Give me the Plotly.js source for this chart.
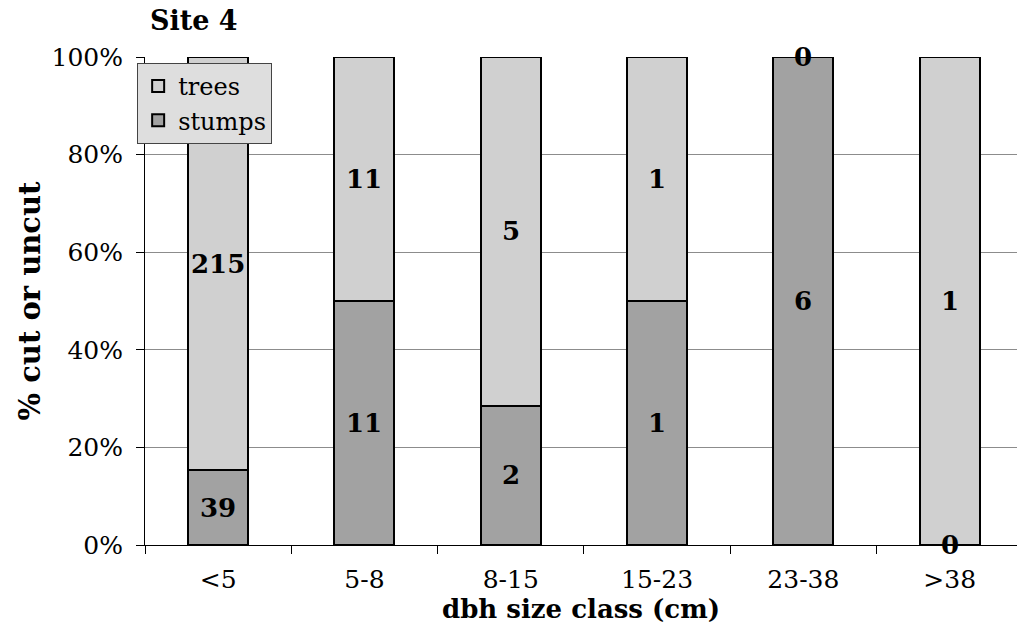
<!DOCTYPE html>
<html>
<head>
<meta charset="utf-8">
<script src="https://cdn.plot.ly/plotly-3.0.1.min.js"></script>
<style>html,body{margin:0;padding:0;background:#fff;}#chart{width:1017px;height:641px;}</style>
</head>
<body>
<div id="chart"></div>
<script>
const categories = ['<5', '5-8', '8-15', '15-23', '23-38', '>38'];
const stumps = [39, 11, 2, 1, 6, 0];
const trees = [215, 11, 5, 1, 0, 1];
const yTickVals = [0, 20, 40, 60, 80, 100];
const yTickText = ['0%', '20%', '40%', '60%', '80%', '100%'];

const FONT = 'DejaVu Serif, Georgia, serif';
const totals = categories.map((c, i) => stumps[i] + trees[i]);
const pctS = stumps.map((v, i) => 100 * v / totals[i]);
const pctT = trees.map((v, i) => 100 * v / totals[i]);

const traceStumps = {
  type: 'bar', name: 'stumps', x: categories, y: pctS,
  marker: {color: '#a2a2a2', line: {color: '#000', width: 2}},
  hoverinfo: 'skip'
};
const traceTrees = {
  type: 'bar', name: 'trees', x: categories, y: pctT,
  marker: {color: '#d0d0d0', line: {color: '#000', width: 2}},
  hoverinfo: 'skip'
};

const annotations = [];
categories.forEach((c, i) => {
  annotations.push({x: c, y: pctS[i] / 2, xref: 'x', yref: 'y', text: '<b>' + stumps[i] + '</b>',
    showarrow: false, font: {family: FONT, size: 26, color: '#000'}});
  annotations.push({x: c, y: pctS[i] + pctT[i] / 2, xref: 'x', yref: 'y', text: '<b>' + trees[i] + '</b>',
    showarrow: false, font: {family: FONT, size: 26, color: '#000'}});
});

const layout = {
  width: 1017, height: 641,
  margin: {l: 145, r: 0, t: 57, b: 96, pad: 0},
  paper_bgcolor: '#fff', plot_bgcolor: '#fff',
  barmode: 'stack', bargap: 0.59,
  font: {family: FONT, size: 22, color: '#000'},
  title: {text: '<b>Site 4</b>', x: 150 / 1017, xanchor: 'left', xref: 'container',
    y: 1 - 21 / 641, yanchor: 'middle', yref: 'container',
    font: {family: FONT, size: 27, color: '#000'}},
  xaxis: {
    type: 'category', range: [-0.5, 5.46],
    showline: true, linecolor: '#000', linewidth: 1,
    ticks: 'outside', tickson: 'boundaries', ticklen: 8, tickcolor: '#000',
    ticklabelstandoff: 12,
    tickfont: {family: FONT, size: 25, color: '#000'},
    title: {text: '<b>dbh size class (cm)</b>', standoff: 2, font: {family: FONT, size: 26, color: '#000'}},
    showgrid: false, fixedrange: true
  },
  yaxis: {
    range: [0, 100], tickvals: yTickVals, ticktext: yTickText,
    showline: true, linecolor: '#000', linewidth: 1,
    ticks: 'outside', ticklen: 8, tickcolor: '#000',
    ticklabelstandoff: 8,
    tickfont: {family: FONT, size: 25, color: '#000'},
    showgrid: true, gridcolor: '#8c8c8c', gridwidth: 1,
    zeroline: false,
    title: {text: '<b>% cut or uncut</b>', standoff: 2, font: {family: FONT, size: 29, color: '#000'}},
    fixedrange: true
  },
  legend: {
    x: -0.009, y: 0.988, xanchor: 'left', yanchor: 'top',
    traceorder: 'reversed', bgcolor: '#dedede', bordercolor: '#444', borderwidth: 1,
    font: {family: FONT, size: 24, color: '#000'},
    itemwidth: 30, tracegroupgap: 0
  },
  annotations: annotations,
  showlegend: true
};

Plotly.newPlot('chart', [traceStumps, traceTrees], layout, {staticPlot: true, displayModeBar: false});
</script>
</body>
</html>
